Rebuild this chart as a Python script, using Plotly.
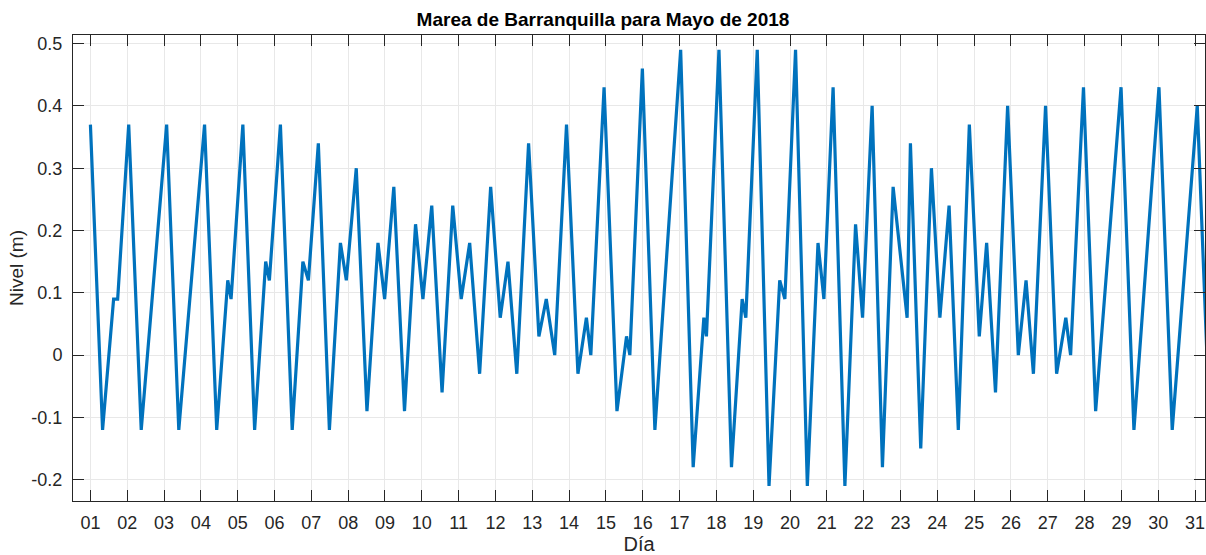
import plotly.graph_objects as go

# Time of each tide extreme (day of May 2018, fractional) and level (m)
dias = [1.00, 1.33, 1.63, 1.74, 2.04, 2.38, 3.07, 3.40, 4.10, 4.43, 4.73, 4.82,
        5.14, 5.46, 5.76, 5.86, 6.16, 6.48, 6.77, 6.92, 7.19, 7.49, 7.79, 7.95,
        8.22, 8.51, 8.81, 8.99, 9.24, 9.53, 9.83, 10.03, 10.27, 10.55, 10.84, 11.07,
        11.30, 11.57, 11.87, 12.13, 12.34, 12.58, 12.90, 13.18, 13.38, 13.61, 13.93, 14.24,
        14.47, 14.59, 14.95, 15.30, 15.56, 15.65, 15.99, 16.33, 17.03, 17.37, 17.66, 17.73,
        18.07, 18.41, 18.70, 18.80, 19.11, 19.43, 19.72, 19.86, 20.15, 20.47, 20.76, 20.92,
        21.17, 21.49, 21.78, 21.97, 22.23, 22.51, 22.80, 23.18, 23.27, 23.55, 23.84, 24.07,
        24.32, 24.57, 24.87, 25.14, 25.34, 25.58, 25.91, 26.20, 26.41, 26.61, 26.94, 27.24,
        27.49, 27.62, 27.97, 28.30, 28.99, 29.34, 30.02, 30.38, 31.06, 31.40]
nivel = [0.37, -0.12, 0.09, 0.09, 0.37, -0.12, 0.37, -0.12, 0.37, -0.12, 0.12, 0.09,
         0.37, -0.12, 0.15, 0.12, 0.37, -0.12, 0.15, 0.12, 0.34, -0.12, 0.18, 0.12,
         0.30, -0.09, 0.18, 0.09, 0.27, -0.09, 0.21, 0.09, 0.24, -0.06, 0.24, 0.09,
         0.18, -0.03, 0.27, 0.06, 0.15, -0.03, 0.34, 0.03, 0.09, 0.00, 0.37, -0.03,
         0.06, 0.00, 0.43, -0.09, 0.03, 0.00, 0.46, -0.12, 0.49, -0.18, 0.06, 0.03,
         0.49, -0.18, 0.09, 0.06, 0.49, -0.21, 0.12, 0.09, 0.49, -0.21, 0.18, 0.09,
         0.43, -0.21, 0.21, 0.06, 0.40, -0.18, 0.27, 0.06, 0.34, -0.15, 0.30, 0.06,
         0.24, -0.12, 0.37, 0.03, 0.18, -0.06, 0.40, 0.00, 0.12, -0.03, 0.40, -0.03,
         0.06, 0.00, 0.43, -0.09, 0.43, -0.12, 0.43, -0.12, 0.40, -0.12]

x_ticks = list(range(1, 32))
x_labels = [f"{d:02d}" for d in x_ticks]
y_ticks = [-0.2, -0.1, 0, 0.1, 0.2, 0.3, 0.4, 0.5]
y_labels = ["-0.2", "-0.1", "0", "0.1", "0.2", "0.3", "0.4", "0.5"]

AX = "#262626"
GRID = "#e8e8e8"
FONT = "Liberation Sans, Arial, Helvetica, sans-serif"

fig = go.Figure()
fig.add_trace(go.Scatter(x=dias, y=nivel, mode="lines",
                         line=dict(color="#0072BD", width=3.2), showlegend=False))

fig.update_layout(
    width=1206, height=555,
    margin=dict(l=73, r=1, t=35, b=54, autoexpand=False),
    paper_bgcolor="white", plot_bgcolor="white",
    font=dict(family=FONT, size=18, color=AX),
    title=dict(text="<b>Marea de Barranquilla para Mayo de 2018</b>",
               x=0.5, xanchor="center", y=1 - 19 / 555, yanchor="middle",
               font=dict(family=FONT, size=19, color="black")),
)
fig.update_xaxes(
    range=[0.527, 31.27], tickmode="array", tickvals=x_ticks, ticktext=x_labels,
    showgrid=True, gridcolor=GRID, gridwidth=1,
    showline=True, linecolor=AX, linewidth=1, mirror="ticks",
    ticks="inside", ticklen=11, tickcolor=AX, tickwidth=1,
    ticklabelstandoff=5,
    zeroline=False,
    title=dict(text="Día", font=dict(size=20, color=AX), standoff=3),
)
fig.update_yaxes(
    range=[-0.2342, 0.5138], tickmode="array", tickvals=y_ticks, ticktext=y_labels,
    showgrid=True, gridcolor=GRID, gridwidth=1,
    showline=True, linecolor=AX, linewidth=1, mirror="ticks",
    ticks="inside", ticklen=11, tickcolor=AX, tickwidth=1,
    ticklabelstandoff=6,
    zeroline=False,
    title=dict(text="Nivel (m)", font=dict(size=19, color=AX), standoff=2),
)

fig.write_html(
    "out.html",
    config={"displayModeBar": False},
    post_script="document.body.style.margin='0';document.body.style.overflow='hidden';",
)
